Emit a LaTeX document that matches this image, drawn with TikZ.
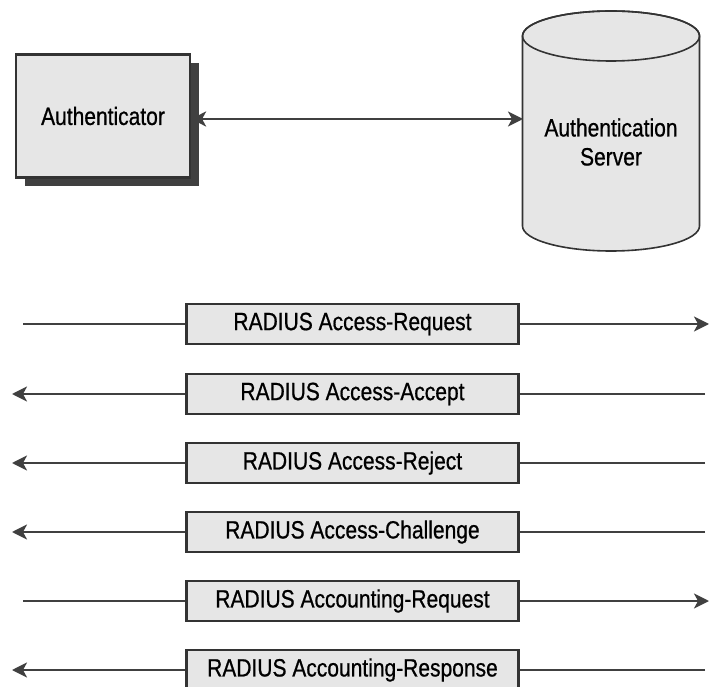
\documentclass[tikz,border=0pt]{standalone}
\usepackage{fontspec}
\setmainfont{Liberation Sans}[FakeStretch=0.84, FakeBold=0.7]
\usetikzlibrary{arrows.meta,shadows}

\definecolor{boxgray}{HTML}{E6E6E6}
\definecolor{edgegray}{HTML}{333333}
\definecolor{linegray}{HTML}{404040}

\tikzset{
  msgbox/.style={draw=edgegray, line width=2.2pt, fill=boxgray,
    minimum width=332pt, minimum height=40pt, inner sep=0pt,
    font=\fontsize{25}{28}\selectfont},
  msgline/.style={draw=linegray, line width=2.2pt}
}

\begin{document}
\begin{tikzpicture}[x=1pt, y=1pt, >={Stealth[length=15pt,width=15pt,inset=4pt]}]
  \useasboundingbox (0,0) rectangle (709,686);

  % client side box with its offset shadow
  \node[
    draw=edgegray,
    line width=2.2pt,
    fill=boxgray,
    minimum width=174pt,
    minimum height=123pt,
    font=\fontsize{25}{28}\selectfont,
    drop shadow={shadow xshift=9pt, shadow yshift=-9pt, fill=black!75, opacity=1}
  ] (auth) at (103,570) {Authenticator};

  % server drawn as a drum
  \filldraw[fill=boxgray, draw=edgegray, line width=1.6pt]
    (522.5,650) -- (522.5,460)
    arc[start angle=180, end angle=360, x radius=88.5pt, y radius=25pt]
    -- (699.5,650)
    arc[start angle=0, end angle=180, x radius=88.5pt, y radius=25pt] -- cycle;
  \draw[draw=edgegray, line width=1.6pt] (611,650) ellipse[x radius=88.5pt, y radius=25pt];
  \node[align=center, font=\fontsize{25}{29}\selectfont] (srv) at (611,544)
    {Authentication\\Server};
  \coordinate (srvside) at (523,567);

  \draw[msgline, <->] (auth.east |- srvside) -- (srvside);

  % ends of the message lines
  \coordinate (sendL) at (23,0);
  \coordinate (sendR) at (709,0);
  \coordinate (backL) at (12,0);
  \coordinate (backR) at (705,0);

  \node[msgbox] (req)    at (352.5,362) {RADIUS Access-Request};
  \node[msgbox] (accept) at (352.5,292) {RADIUS Access-Accept};
  \node[msgbox] (reject) at (352.5,223) {RADIUS Access-Reject};
  \node[msgbox] (chal)   at (352.5,154) {RADIUS Access-Challenge};
  \node[msgbox] (acreq)  at (352.5,85)  {RADIUS Accounting-Request};
  \node[msgbox] (acresp) at (352.5,16)  {RADIUS Accounting-Response};

  \draw[msgline] (req -| sendL) -- (req);
  \draw[msgline, ->] (req) -- (req -| sendR);
  \draw[msgline] (accept -| backR) -- (accept);
  \draw[msgline, ->] (accept) -- (accept -| backL);
  \draw[msgline] (reject -| backR) -- (reject);
  \draw[msgline, ->] (reject) -- (reject -| backL);
  \draw[msgline] (chal -| backR) -- (chal);
  \draw[msgline, ->] (chal) -- (chal -| backL);
  \draw[msgline] (acreq -| sendL) -- (acreq);
  \draw[msgline, ->] (acreq) -- (acreq -| sendR);
  \draw[msgline] (acresp -| backR) -- (acresp);
  \draw[msgline, ->] (acresp) -- (acresp -| backL);
\end{tikzpicture}
\end{document}
